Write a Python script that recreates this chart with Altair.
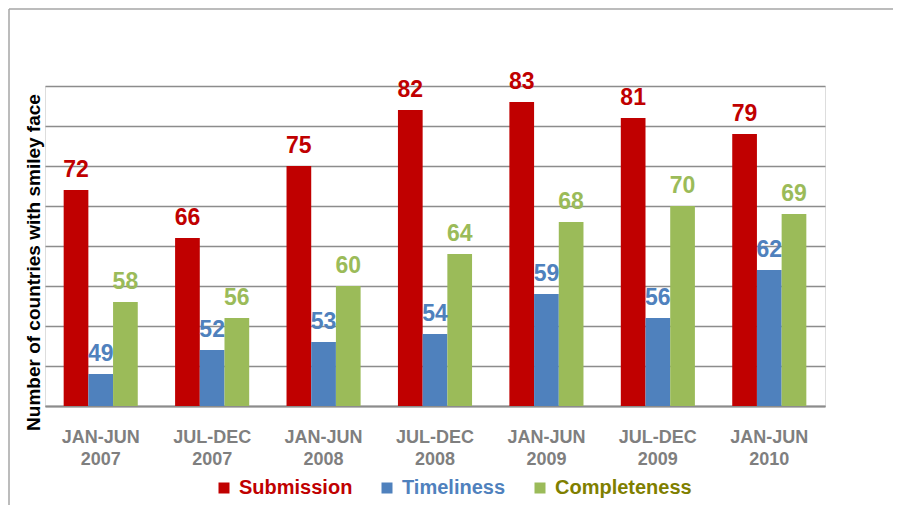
import altair as alt
import pandas as pd

periods = ["JAN-JUN 2007", "JUL-DEC 2007", "JAN-JUN 2008", "JUL-DEC 2008",
           "JAN-JUN 2009", "JUL-DEC 2009", "JAN-JUN 2010"]
series = ["Submission", "Timeliness", "Completeness"]
submission = [72, 66, 75, 82, 83, 81, 79]
timeliness = [49, 52, 53, 54, 59, 56, 62]
completeness = [58, 56, 60, 64, 68, 70, 69]
series_colors = ["#C00000", "#4F81BD", "#9BBB59"]
y_ticks = [45, 50, 55, 60, 65, 70, 75, 80, 85]

rows = []
for name, vals in zip(series, [submission, timeliness, completeness]):
    for p, v in zip(periods, vals):
        rows.append({"period": p, "series": name, "value": v})
df = pd.DataFrame(rows)

FONT = "Liberation Sans"

x_enc = alt.X("period:N", sort=periods, title=None,
              scale=alt.Scale(paddingInner=0.335, paddingOuter=0.1675),
              axis=alt.Axis(labelExpr="split(datum.label, ' ')", labelAngle=0,
                            labelFont=FONT, labelFontSize=18, labelFontWeight="bold",
                            labelColor="#7F7F7F", labelPadding=22, labelLineHeight=22,
                            ticks=False, tickSize=0, domainColor="#8C8C8C",
                            domainWidth=2, grid=False))
y_enc = alt.Y("value:Q", title="Number of countries  with smiley face",
              scale=alt.Scale(domain=[45, 85], zero=False, clamp=True, nice=False),
              axis=alt.Axis(values=y_ticks, labels=False, ticks=False, domain=False,
                            grid=True, gridColor="#8C8C8C", gridWidth=1.5,
                            titleFont=FONT, titleFontSize=19, titleFontWeight="bold",
                            titleColor="#000000", titleX=-6, titleY=176,
                            titleBaseline="alphabetic", titleAlign="center", titleAngle=270))
color_enc = alt.Color("series:N", sort=series,
                      scale=alt.Scale(domain=series, range=series_colors),
                      legend=alt.Legend(title=None, orient="none", direction="horizontal",
                                        legendX=169, legendY=392, padding=0,
                                        symbolType="square", symbolSize=121,
                                        symbolStrokeWidth=0, labelOffset=5,
                                        columnPadding=24, labelFont=FONT,
                                        labelFontSize=20, labelFontWeight="bold",
                                        labelColor={"expr": "datum.label == 'Submission' ? '#C00000' : datum.label == 'Timeliness' ? '#4F81BD' : '#7F7F00'"}))
xoff = alt.XOffset("series:N", sort=series, scale=alt.Scale(paddingInner=0, paddingOuter=0))

base = alt.Chart(df)

bars = base.mark_bar().encode(x=x_enc, y=y_enc, color=color_enc, xOffset=xoff)
labels = base.mark_text(font=FONT, fontSize=23, fontWeight="bold",
                        baseline="alphabetic", dy=-13).encode(
    x=x_enc, y=y_enc, color=color_enc, xOffset=xoff, text=alt.Text("value:Q"))

frame_src = alt.Chart(pd.DataFrame({"a": [0]}))
frame_left = frame_src.mark_rule(stroke="#A6A6A6", strokeWidth=1.5).encode(
    x=alt.value(-36), y=alt.value(-77), y2=alt.value(600))
frame_top = frame_src.mark_rule(stroke="#A6A6A6", strokeWidth=1.5).encode(
    x=alt.value(-36), x2=alt.value(900), y=alt.value(-77))

chart = alt.layer(frame_left, frame_top, bars, labels).properties(
    width=780, height=320,
    autosize=alt.AutoSizeParams(type="none"),
    padding={"left": 37, "top": 78, "right": 68, "bottom": 99},
).configure_view(fill="#F2F2F2", strokeWidth=0).configure(background="white")

chart.save("out.html", embed_options={"renderer": "svg", "actions": False})
